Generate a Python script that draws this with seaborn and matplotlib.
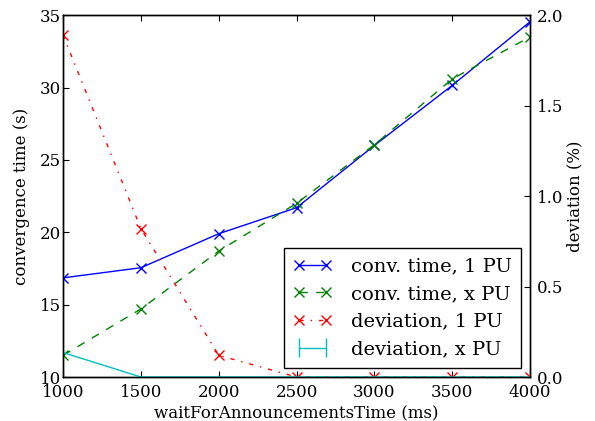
import matplotlib
matplotlib.use('Agg')
import matplotlib.pyplot as plt
import seaborn as sns
import pandas as pd

wait_ms = [1000, 1500, 2000, 2500, 3000, 3500, 4000]
conv_1pu = [16.85, 17.55, 19.9, 21.7, 26.0, 30.15, 34.55]
conv_xpu = [11.5, 14.7, 18.7, 22.0, 26.05, 30.6, 33.5]
dev_1pu = [1.89, 0.82, 0.12, 0.0, 0.0, 0.0, 0.0]
dev_xpu = [0.135, 0.0, 0.0, 0.0, 0.0, 0.0, 0.0]
dev_xpu_err = [0.0, 0.0, 0.0, 0.0, 0.0, 0.0, 0.0]

labels = ["conv. time, 1 PU", "conv. time, x PU", "deviation, 1 PU", "deviation, x PU"]

sns.set_style("ticks")
plt.rcParams.update({
    "font.family": ["DejaVu Serif"],
    "font.size": 12,
    "xtick.direction": "in",
    "ytick.direction": "in",
    "xtick.top": True,
    "xtick.major.size": 4,
    "ytick.major.size": 4,
    "xtick.major.pad": 5,
    "ytick.major.pad": 5,
    "xtick.labelsize": 12,
    "ytick.labelsize": 12,
    "axes.labelsize": 12,
    "axes.linewidth": 1.0,
    "lines.linewidth": 1.0,
    "lines.scale_dashes": False,
    "lines.dashed_pattern": [6, 6],
    "lines.dashdot_pattern": [3, 5, 1, 5],
    "axes.edgecolor": "black",
    "xtick.color": "black",
    "ytick.color": "black",
    "text.color": "black",
    "axes.labelcolor": "black",
})

df = pd.DataFrame({"wait": wait_ms, "c1": conv_1pu, "cx": conv_xpu, "d1": dev_1pu, "dx": dev_xpu})

fig = plt.figure(figsize=(5.95, 4.21), dpi=100)
ax1 = fig.add_axes([0.106, 0.1045, 0.785, 0.8595])
ax2 = ax1.twinx()

mk = dict(marker="x", markersize=7, markeredgewidth=1.0)
sns.lineplot(data=df, x="wait", y="c1", ax=ax1, color=(0, 0, 1), linestyle="-",
             markeredgecolor=(0, 0, 1), label=labels[0], legend=False, **mk)
sns.lineplot(data=df, x="wait", y="cx", ax=ax1, color=(0, 0.5, 0), linestyle="--",
             markeredgecolor=(0, 0.5, 0), label=labels[1], legend=False, **mk)
sns.lineplot(data=df, x="wait", y="d1", ax=ax2, color=(1, 0, 0), linestyle="-.",
             markeredgecolor=(1, 0, 0), label=labels[2], legend=False, **mk)
eb = ax2.errorbar(wait_ms, dev_xpu, yerr=dev_xpu_err, color=(0, 0.75, 0.75),
                  capsize=0, label=labels[3])

ax1.set_xlim(1000, 4000)
ax1.set_ylim(10, 35)
ax2.set_ylim(0, 2.0)
ax1.set_xticks([1000, 1500, 2000, 2500, 3000, 3500, 4000])
ax1.set_yticks([10, 15, 20, 25, 30, 35])
ax2.set_yticks([0.0, 0.5, 1.0, 1.5, 2.0])
ax1.tick_params(axis="y", pad=1.5)
ax2.tick_params(axis="y", pad=5)
ax1.tick_params(axis="x", pad=5)
ax1.set_xlabel("waitForAnnouncementsTime (ms)", labelpad=3)
ax1.set_ylabel("convergence time (s)", labelpad=7)
ax2.set_ylabel("deviation (%)", labelpad=2)

h1, l1 = ax1.get_legend_handles_labels()
h2, l2 = ax2.get_legend_handles_labels()
leg = ax2.legend(h1 + h2, l1 + l2, loc="lower right", numpoints=2, fancybox=False,
                 framealpha=1, edgecolor="black", fontsize=14, borderaxespad=0.45,
                 handlelength=2.0, handletextpad=0.95, borderpad=0.5, labelspacing=0.5)
leg.get_frame().set_linewidth(1.0)

fig.savefig("out.png", dpi=100)
